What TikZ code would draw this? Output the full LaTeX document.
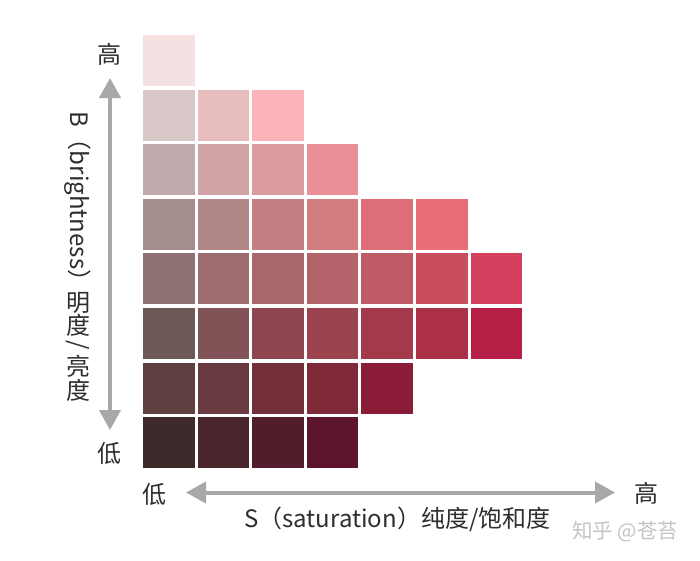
\documentclass[tikz,border=0pt]{standalone}
\usepackage{fontspec}
\setmainfont{Noto Sans CJK SC}
\usetikzlibrary{arrows.meta}
\definecolor{axisgray}{HTML}{A8A8A8}
\definecolor{txt}{HTML}{2E2E2E}
\definecolor{wm}{HTML}{C4C4C4}
\tikzset{
  cell/.style={minimum width=51.5pt,minimum height=51pt,inner sep=0pt,outer sep=0pt,draw=none},
  axis/.style={draw=axisgray,line width=4pt,{Triangle[length=20pt,width=21pt]}-{Triangle[length=20pt,width=21pt]}},
  lab/.style={text=txt,font=\fontsize{24}{26}\selectfont,inner sep=0pt},
  wmark/.style={text=wm,font=\fontsize{20.5}{22}\selectfont,inner sep=0pt}
}
\begin{document}
\begin{tikzpicture}[x=1pt,y=-1pt]
\useasboundingbox (0,0) rectangle (700,560);
\fill[white] (0,0) rectangle (700,560);
% rows of colours
\foreach \r/\lst in {
 1/{F5E1E1},
 2/{D9C8C8,E8BDBE,FBB5BA},
 3/{BFA9AA,CFA3A5,DC9B9F,E99096},
 4/{A68E8E,B18887,C28083,D27D80,DD6E78,E76D76},
 5/{8C7273,9C6C6F,A8676C,B36369,BE5A63,C84E5E,D4405F},
 6/{6E5858,815356,8D4650,9B434E,A4394B,AB3048,B62046},
 7/{5E4041,693B40,722F39,7E2838,8A1C38},
 8/{3E2A2B,4A252B,511D2B,5C152D}}{
  \foreach \hex [count=\c] in \lst {
    \definecolor{cc}{HTML}{\hex}
    \node[cell,fill=cc] (c-\r-\c) at ({168.75+54.6*(\c-1)},{60.5+54.6*(\r-1)}) {};
  }
}
% vertical axis
\coordinate (vtop) at (110,78);
\coordinate (vbot) at (110,430);
\draw[axis] (vtop) -- (vbot);
\node[lab] (vhigh) at (109.5,54) {高};
\node[lab] (vlow) at (109.5,453) {低};
\node[lab,rotate=-90,anchor=west] (vlat) at (78,111) {B（brightness）};
\node[lab] (v1) at (78,303) {明};
\node[lab] (v2) at (78,325) {度};
\node[lab,rotate=-90] (v3) at (78,345) {/};
\node[lab] (v4) at (78,366) {亮};
\node[lab] (v5) at (78,390) {度};
% horizontal axis
\coordinate (hleft) at (186,492.5);
\coordinate (hright) at (615,492.5);
\draw[axis] (hleft) -- (hright);
\node[lab] (hlow) at (154,494) {低};
\node[lab] (hhigh) at (646,493) {高};
\node[lab,anchor=west] (hlab) at (244,519) {S（saturation）纯度/饱和度};
\node[wmark,anchor=west] (wmk) at (572,532) {知乎 @苍苔};
\end{tikzpicture}
\end{document}
